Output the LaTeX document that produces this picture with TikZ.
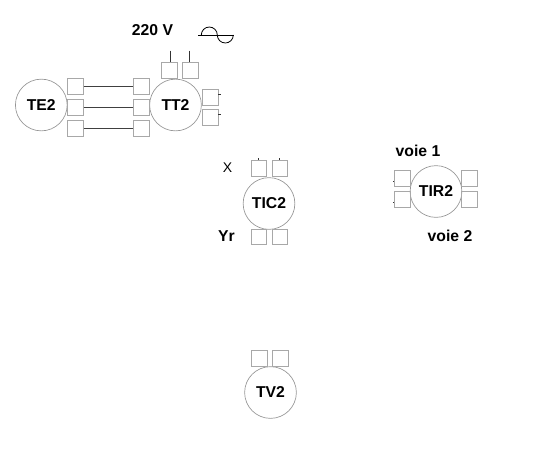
\documentclass[tikz,border=0pt]{standalone}
\usepackage{fontspec}
\setmainfont{Liberation Sans}
\usepackage{xcolor}
\definecolor{ringgray}{HTML}{959595}
\definecolor{portgray}{HTML}{A8A8A8}
\usetikzlibrary{positioning}

\begin{document}
\begin{tikzpicture}[x=0.75pt, y=-0.75pt, node distance=3.5pt,
    unit/.style={circle, draw=ringgray, line width=0.5pt, minimum size=38.8pt, inner sep=0pt, font=\bfseries\fontsize{11.8}{13}\selectfont},
    portbox/.style={draw=portgray, line width=0.5pt, minimum size=11.8pt, inner sep=0pt},
    lbl/.style={font=\bfseries\fontsize{11.8}{13}\selectfont, inner sep=0pt},
    wire/.style={draw=black!75, line width=0.75pt},
    stub/.style={draw=black!80, line width=0.6pt}]
    \useasboundingbox (0,0) rectangle (535,457);

    % units
    \node[unit] (te2) at (41.3,105) {TE2};
    \node[unit] (tt2) at (175.5,105) {TT2};
    \node[unit] (tic2) at (269,203.5) {TIC2};
    \node[unit] (tir2) at (436,191.5) {TIR2};
    \node[unit] (tv2) at (270.5,392.5) {TV2};

    % TE2 - TT2
    \node[portbox] (tea) at (75.3,86.3) {};
    \node[portbox] (teb) at (75.3,107) {};
    \node[portbox] (tec) at (75.3,128) {};
    \node[portbox] (tta) at (141.3,86.3) {};
    \node[portbox] (ttb) at (141.3,107) {};
    \node[portbox] (ttc) at (141.3,128) {};
    \draw[wire] (tea) -- (tta);
    \draw[wire] (teb) -- (ttb);
    \draw[wire] (tec) -- (ttc);

    \node[portbox] (ttp) at (169,70) {};
    \node[portbox, right=of ttp] (ttn) {};
    \node[portbox] (ttu) at (210,97) {};
    \node[portbox] (ttv) at (210,117.5) {};

    \coordinate (ttpin) at (170.3,50.7);
    \coordinate (ttnin) at (189.3,50.7);
    \draw[stub] (ttpin) -- (ttpin |- ttp.north);
    \draw[stub] (ttnin) -- (ttnin |- ttn.north);
    \draw[stub] (ttu.east) ++(0,-3) coordinate (ttuin) -- ++(2.3,0) coordinate (ttuout);
    \draw[stub] (ttv.east) ++(0,-3) coordinate (ttvin) -- ++(2.3,0) coordinate (ttvout);

    % supply
    \node[lbl] (supply) at (152.5,30) {220 V};
    \coordinate (sinel) at (198,35);
    \coordinate (siner) at (234,35);
    \coordinate (sinea) at (201.3,35);
    \draw[line width=0.6pt] (sinel) -- (siner);
    \draw[line width=0.6pt] (sinea) arc[start angle=180, end angle=0, radius=6pt] arc[start angle=180, end angle=360, radius=6pt];

    % TIC2
    \node[portbox] (tica) at (258.7,168) {};
    \node[portbox, right=of tica] (ticb) {};
    \node[portbox] (ticc) at (258.7,236.7) {};
    \node[portbox, right=of ticc] (ticd) {};
    \draw[stub] (tica.north) -- ++(0,-1.5) coordinate (ticain);
    \draw[stub] (ticb.north) -- ++(0,-1.5) coordinate (ticbin);
    \node[font=\fontsize{10.5}{12}\selectfont, inner sep=0pt] (ticx) at (227.5,167.8) {X};
    \node[lbl] (ticy) at (226.5,236) {Yr};

    % TIR2
    \node[portbox] (tira) at (402,178.2) {};
    \node[portbox] (tirb) at (402,199) {};
    \node[portbox] (tirc) at (469.5,178.2) {};
    \node[portbox] (tird) at (469.5,199) {};
    \draw[stub] (tira.west) ++(0,3) coordinate (tirain) -- ++(-1.3,0) coordinate (tiraout);
    \draw[stub] (tirb.west) ++(0,3) coordinate (tirbin) -- ++(-1.3,0) coordinate (tirbout);
    \node[lbl] (voiea) at (418,151) {voie 1};
    \node[lbl] (voieb) at (450,235.5) {voie 2};

    % TV2
    \node[portbox] (tva) at (259.5,358.6) {};
    \node[portbox, right=of tva] (tvb) {};
\end{tikzpicture}
\end{document}
